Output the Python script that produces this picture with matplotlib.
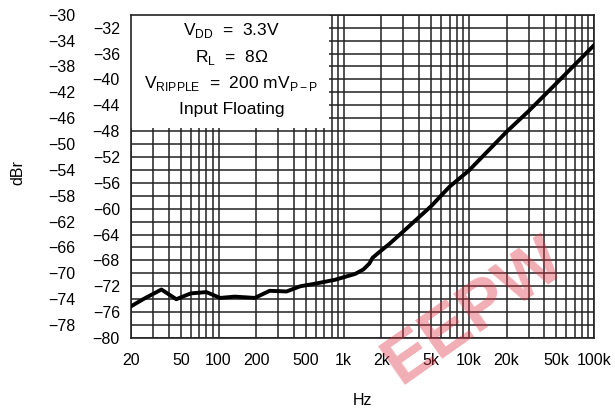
import numpy as np
import matplotlib.pyplot as plt
from matplotlib.patches import Rectangle

plt.rcParams['font.family'] = ['Liberation Sans', 'DejaVu Sans']
plt.rcParams['mathtext.fontset'] = 'custom'
plt.rcParams['mathtext.rm'] = 'Liberation Sans'

# curve
freq = [20, 25, 35, 46, 60, 80, 103, 135, 195, 256, 350, 450, 590, 850, 1000,
        1230, 1435, 1600, 1700, 1900, 2300, 3000, 4000, 5000, 7000, 10000, 20000,
        30000, 50000, 100000]
dbr = [-75.1, -74.0, -72.5, -74.0, -73.1, -72.9, -73.8, -73.6, -73.8, -72.7,
       -72.8, -72.0, -71.6, -71.0, -70.6, -70.1, -69.4, -68.5, -67.6, -66.8,
       -65.5, -63.5, -61.3, -59.6, -56.6, -54.1, -48.1, -44.9, -40.6, -34.7]

x_labels = ['20', '50', '100', '200', '500', '1k', '2k', '5k', '10k', '20k', '50k', '100k']
x_major = [20, 50, 100, 200, 500, 1e3, 2e3, 5e3, 1e4, 2e4, 5e4, 1e5]
x_minor = [30, 40, 60, 70, 80, 90, 300, 400, 600, 700, 800, 900,
           3e3, 4e3, 6e3, 7e3, 8e3, 9e3, 3e4, 4e4, 6e4, 7e4, 8e4, 9e4]
y_inner = list(range(-80, -31, 4))   # -80, -76, ... -32 (near axis)
y_outer = list(range(-78, -29, 4))   # -78, -74, ... -30 (outer column)

fig = plt.figure(figsize=(6.15, 4.16), dpi=100)
ax = fig.add_axes([0.213, 0.1875, 0.753, 0.777])

ax.set_xscale('log')
ax.set_xlim(20, 1e5)
ax.set_ylim(-80, -30)

ax.set_xticks(x_major)
ax.set_xticklabels(x_labels)
ax.set_xticks(x_minor, minor=True)
ax.set_xticklabels([], minor=True)

ax.set_yticks(y_inner)
ax.set_yticklabels([str(v).replace('-', '\u2212') for v in y_inner])
ax.set_yticks(y_outer, minor=True)
ax.set_yticklabels([str(v).replace('-', '\u2212') for v in y_outer], minor=True)

ax.tick_params(axis='x', which='both', length=0, pad=11, labelsize=11.5)
ax.tick_params(axis='y', which='major', length=0, pad=8, labelsize=11.5)
ax.tick_params(axis='y', which='minor', length=0, pad=40, labelsize=11.5)

ax.set_axisbelow(True)
ax.grid(which='both', color='#222222', lw=1.1)
for s in ax.spines.values():
    s.set_color('#222222')
    s.set_linewidth(1.2)

# white legend box over the upper-left grid
ax.add_patch(Rectangle((20, -47.5), 760 - 20, 17.5, facecolor='white',
                       edgecolor='none', zorder=1))

ax.plot(freq, dbr, color='black', lw=2.8, zorder=3)

bx = 0.217
ax.text(bx, 0.952, r'V$_{\mathregular{DD}}$  =  3.3V', transform=ax.transAxes,
        ha='center', va='center', fontsize=12.5)
ax.text(bx, 0.868, r'R$_{\mathregular{L}}$  =  8$\Omega$', transform=ax.transAxes,
        ha='center', va='center', fontsize=12.5)
ax.text(bx, 0.787, r'V$_{\mathregular{RIPPLE}}$  =  200 mV$_{\mathregular{P-P}}$',
        transform=ax.transAxes, ha='center', va='center', fontsize=12.5)
ax.text(bx, 0.708, 'Input Floating', transform=ax.transAxes,
        ha='center', va='center', fontsize=12.5)

fig.text(0.029, 0.585, 'dBr', rotation=90, ha='center', va='center', fontsize=11.5)
fig.text(0.589, 0.038, 'Hz', ha='center', va='center', fontsize=11.5)

# watermark
fig.text(0.77, 0.25, 'EEPW', rotation=35, ha='center', va='center',
         fontsize=50, fontweight='bold', color='#dd3344', alpha=0.4, zorder=10)

fig.savefig('out.png', dpi=100)
